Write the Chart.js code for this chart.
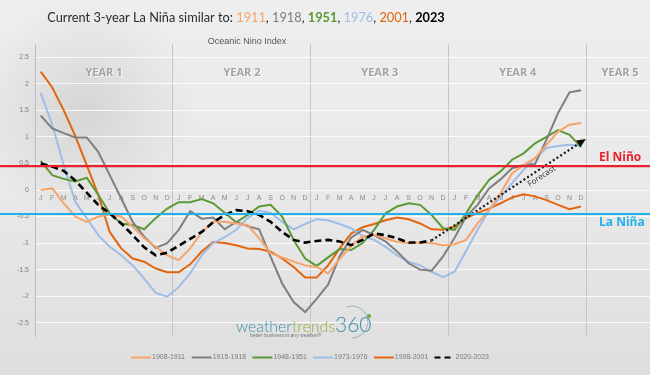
<!DOCTYPE html>
<html>
<head>
<meta charset="utf-8">
<script src="https://cdn.jsdelivr.net/npm/chart.js@4.4.1/dist/chart.umd.min.js"></script>
<style>
	html, body { margin: 0; padding: 0; background: #e8e8e8; }
	#wrap { width: 650px; height: 375px; }
</style>
</head>
<body>
<div id="wrap"><canvas id="ninoChart" width="650" height="375"></canvas></div>
<script>
// Oceanic Nino Index, 4 years of months per analogue event
const monthLetters = ["J", "F", "M", "A", "M", "J", "J", "A", "S", "O", "N", "D"];
const yearLabels = ["YEAR 1", "YEAR 2", "YEAR 3", "YEAR 4", "YEAR 5"];
const yearCenters = [5.5, 17.5, 29.5, 41.5, 50.4];
const yearBounds = [11.5, 23.5, 35.5, 47.5];
const yTicks = [-2.5, -2, -1.5, -1, -0.5, 0, 0.5, 1, 1.5, 2, 2.5];

const seriesLabels = ["1908-1911", "1915-1918", "1948-1951", "1973-1976", "1998-2001", "2020-2023"];
const seriesColors = ["#f7a46b", "#7f7f7f", "#5b9a34", "#9fbde9", "#e2650f", "#000000"];

const oni1908 = [
	0.0, 0.03, -0.25, -0.5, -0.6, -0.5, -0.46, -0.5, -0.69, -0.91, -1.07, -1.23,
	-1.32, -1.1, -0.8, -0.6, -0.6, -0.63, -0.66, -0.91, -1.19, -1.27, -1.35, -1.42,
	-1.45, -1.57, -1.3, -1.05, -0.88, -0.85, -0.91, -0.98, -1.0, -0.99, -1.0, -1.04,
	-1.02, -0.94, -0.63, -0.38, -0.06, 0.31, 0.47, 0.6, 0.85, 1.1, 1.23, 1.26,
];
const oni1915 = [
	1.4, 1.16, 1.07, 0.99, 0.99, 0.72, 0.28, -0.16, -0.6, -0.88, -1.09, -1.0,
	-0.75, -0.4, -0.54, -0.52, -0.74, -0.6, -0.68, -0.74, -1.26, -1.76, -2.11, -2.3,
	-2.05, -1.78, -1.25, -0.9, -0.75, -0.85, -0.97, -1.16, -1.38, -1.5, -1.52, -1.25,
	-0.9, -0.5, -0.28, 0.03, 0.2, 0.41, 0.47, 0.49, 0.95, 1.45, 1.84, 1.88,
];
const oni1948 = [
	0.55, 0.28, 0.21, 0.16, 0.23, -0.09, -0.44, -0.63, -0.66, -0.74, -0.53, -0.35,
	-0.23, -0.23, -0.17, -0.25, -0.43, -0.61, -0.47, -0.31, -0.28, -0.5, -0.94, -1.29,
	-1.43, -1.27, -1.11, -1.13, -1.0, -0.75, -0.44, -0.31, -0.25, -0.28, -0.47, -0.72,
	-0.75, -0.44, -0.1, 0.19, 0.35, 0.57, 0.69, 0.88, 1.0, 1.13, 1.04, 0.81,
];
const oni1973 = [
	1.83, 1.23, 0.47, -0.22, -0.53, -0.85, -1.07, -1.23, -1.42, -1.67, -1.94, -2.01,
	-1.83, -1.57, -1.23, -1.0, -0.89, -0.75, -0.53, -0.39, -0.43, -0.6, -0.74, -0.64,
	-0.55, -0.57, -0.64, -0.72, -0.87, -0.94, -1.07, -1.23, -1.35, -1.42, -1.54, -1.64,
	-1.54, -1.15, -0.75, -0.38, -0.13, 0.13, 0.38, 0.6, 0.79, 0.83, 0.85, 0.83,
];
const oni1998 = [
	2.23, 1.93, 1.5, 1.02, 0.47, -0.09, -0.79, -1.1, -1.29, -1.35, -1.48, -1.55,
	-1.55, -1.4, -1.16, -0.98, -1.0, -1.04, -1.1, -1.11, -1.16, -1.29, -1.45, -1.65,
	-1.65, -1.42, -1.1, -0.82, -0.7, -0.64, -0.57, -0.52, -0.55, -0.63, -0.74, -0.75,
	-0.69, -0.53, -0.43, -0.35, -0.25, -0.14, -0.08, -0.12, -0.19, -0.28, -0.36, -0.31,
];
const oni2020 = [
	0.5, 0.44, 0.36, 0.18, -0.05, -0.28, -0.44, -0.63, -0.85, -1.08, -1.23, -1.18,
	-1.05, -0.92, -0.79, -0.61, -0.47, -0.38, -0.4, -0.47, -0.6, -0.79, -0.94, -0.99,
	-0.96, -0.94, -0.97, -1.04, -0.94, -0.82, -0.85, -0.91, -0.99, -0.99, -0.95,
];
const forecastX = [34, 47.2];
const forecastY = [-0.95, 0.93];

const ninoLevels = [0.45, -0.45];
const ninoNames = ["El Niño", "La Niña"];
const ninoColors = ["#e8232b", "#1fb0ea"];

const titleLead = "Current 3-year La Niña similar to: ";
const titleYears = ["1911", "1918", "1951", "1976", "2001", "2023"];
const titleBold = [false, false, true, false, false, true];

function toPoints(arr) {
	return arr.map((v, i) => ({ x: i, y: v }));
}

const seriesValues = [oni1908, oni1915, oni1948, oni1973, oni1998, oni2020];

const datasets = seriesValues.map((vals, i) => ({
	label: seriesLabels[i],
	data: toPoints(vals),
	borderColor: seriesColors[i],
	backgroundColor: seriesColors[i],
	borderWidth: i == 5 ? 2.6 : 2,
	borderDash: i == 5 ? [7, 4] : [],
	pointRadius: 0,
	tension: 0,
	fill: false,
	order: i == 5 ? 0 : 1,
}));
datasets.push({
	label: "Forecast",
	data: forecastX.map((x, i) => ({ x: x, y: forecastY[i] })),
	borderColor: "#1a1a1a",
	borderWidth: 2.2,
	borderDash: [2, 2.4],
	pointRadius: 0,
	fill: false,
	order: 0,
	isForecast: true,
});

// background wash
const backdrop = {
	id: "backdrop",
	beforeDraw(chart) {
		const { ctx, width, height } = chart;
		ctx.save();
		const g = ctx.createLinearGradient(0, 0, 0, height);
		g.addColorStop(0, "#eeeeee");
		g.addColorStop(0.5, "#e9e9e9");
		g.addColorStop(1, "#dedede");
		ctx.fillStyle = g;
		ctx.fillRect(0, 0, width, height);
		const r = ctx.createRadialGradient(85, 110, 5, 85, 110, 110);
		r.addColorStop(0, "rgba(120,120,120,0.18)");
		r.addColorStop(1, "rgba(120,120,120,0)");
		ctx.fillStyle = r;
		ctx.fillRect(0, 0, 260, 260);
		ctx.restore();
	},
};

// title, sub title, year headers
const headers = {
	id: "headers",
	beforeDatasetsDraw(chart) {
		const { ctx, scales } = chart;
		ctx.save();
		ctx.textBaseline = "middle";
		ctx.textAlign = "center";
		ctx.font = "bold 11px 'Open Sans'";
		yearLabels.forEach((t, i) => {
			const x = scales.x.getPixelForValue(yearCenters[i]);
			const y = scales.y.getPixelForValue(2.2);
			ctx.fillStyle = "rgba(255,255,255,0.8)";
			ctx.fillText(t, x + 1, y + 1);
			ctx.fillStyle = "#a3a3a3";
			ctx.fillText(t, x, y);
		});
		ctx.font = "9px 'Liberation Sans'";
		ctx.fillStyle = "#555";
		ctx.fillText("Oceanic Nino Index", 247, 42);
		ctx.restore();
	},
	afterDraw(chart) {
		const { ctx } = chart;
		ctx.save();
		ctx.textBaseline = "middle";
		ctx.textAlign = "left";
		const parts = [[titleLead, "#2a2a2a", false]];
		titleYears.forEach((y, i) => {
			parts.push([y, seriesColors[i] == "#000000" ? "#000" : seriesColors[i], titleBold[i]]);
			if (i < titleYears.length - 1) parts.push([", ", "#2a2a2a", false]);
		});
		let size = 18;
		const measure = (s) => {
			let w = 0;
			parts.forEach((p) => {
				ctx.font = (p[2] ? "bold " : "") + s + "px Lato";
				w += ctx.measureText(p[0]).width;
			});
			return w;
		};
		size = size * 398 / measure(size);
		let x = 246 - measure(size) / 2;
		parts.forEach((p) => {
			ctx.font = (p[2] ? "bold " : "") + size + "px Lato";
			ctx.fillStyle = p[1];
			ctx.fillText(p[0], x, 18);
			x += ctx.measureText(p[0]).width;
		});
		ctx.restore();
	},
};

// El Nino / La Nina threshold lines and the forecast arrow
const overlays = {
	id: "overlays",
	afterDatasetsDraw(chart) {
		const { ctx, scales, width } = chart;
		ctx.save();
		ninoLevels.forEach((lvl, i) => {
			const y = scales.y.getPixelForValue(lvl);
			ctx.strokeStyle = ninoColors[i];
			ctx.lineWidth = i == 0 ? 2.4 : 2;
			ctx.beginPath();
			ctx.moveTo(0, y);
			ctx.lineTo(width, y);
			ctx.stroke();
			ctx.font = "bold 12px 'Open Sans'";
			ctx.fillStyle = ninoColors[i];
			ctx.textAlign = "left";
			ctx.textBaseline = "middle";
			ctx.fillText(ninoNames[i], 599, i == 0 ? y - 9 : y + 9);
		});

		const idx = chart.data.datasets.findIndex((d) => d.isForecast);
		const pts = chart.getDatasetMeta(idx).data;
		const p0 = pts[0], p1 = pts[pts.length - 1];
		const a = Math.atan2(p1.y - p0.y, p1.x - p0.x);
		ctx.fillStyle = "#111";
		ctx.beginPath();
		ctx.moveTo(p1.x + Math.cos(a) * 3, p1.y + Math.sin(a) * 3);
		ctx.lineTo(p1.x - Math.cos(a) * 6 - Math.sin(a) * 4, p1.y - Math.sin(a) * 6 + Math.cos(a) * 4);
		ctx.lineTo(p1.x - Math.cos(a) * 6 + Math.sin(a) * 4, p1.y - Math.sin(a) * 6 - Math.cos(a) * 4);
		ctx.closePath();
		ctx.fill();

		const t = 0.7;
		const lx = p0.x + (p1.x - p0.x) * t - Math.sin(a) * 7;
		const ly = p0.y + (p1.y - p0.y) * t + Math.cos(a) * 7;
		ctx.translate(lx, ly);
		ctx.rotate(a);
		ctx.font = "8px 'Open Sans'";
		ctx.fillStyle = "#333";
		ctx.textAlign = "center";
		ctx.textBaseline = "middle";
		ctx.fillText("Forecast", 0, 0);
		ctx.restore();
	},
};

// logo and legend at the bottom
const footer = {
	id: "footer",
	afterDraw(chart) {
		const { ctx } = chart;
		ctx.save();
		ctx.textBaseline = "alphabetic";
		ctx.textAlign = "left";
		ctx.font = "300 18px Lato";
		let x = 236;
		const wW = ctx.measureText("weather").width;
		const tW = ctx.measureText("trends").width;
		const k = 99 / (wW + tW);
		ctx.font = "300 " + 18 * k + "px Lato";
		ctx.fillStyle = "#3d8fab";
		ctx.fillText("weather", x, 332);
		x += ctx.measureText("weather").width;
		ctx.fillStyle = "#8db13d";
		ctx.fillText("trends", x, 332);
		x += ctx.measureText("trends").width;
		ctx.font = "300 21px Lato";
		ctx.fillStyle = "#3d8fab";
		ctx.fillText("360", x, 332);
		ctx.strokeStyle = "rgba(110,150,170,0.6)";
		ctx.lineWidth = 1;
		ctx.beginPath();
		ctx.arc(352, 322, 16, -1.9, 1.6);
		ctx.stroke();
		ctx.fillStyle = "#7aa33a";
		ctx.beginPath();
		ctx.arc(369, 316, 2, 0, Math.PI * 2);
		ctx.fill();
		ctx.font = "5px 'Liberation Sans'";
		ctx.fillStyle = "#777";
		ctx.fillText("better business in any weather\u00ae", 250, 337);

		let lx = 131;
		ctx.font = "7px 'Liberation Sans'";
		ctx.textBaseline = "middle";
		chart.data.datasets.forEach((ds) => {
			if (ds.isForecast) return;
			ctx.strokeStyle = ds.borderColor;
			ctx.lineWidth = 2;
			ctx.setLineDash(ds.borderDash.length ? [6, 4] : []);
			ctx.beginPath();
			ctx.moveTo(lx, 357.5);
			ctx.lineTo(lx + 20, 357.5);
			ctx.stroke();
			ctx.setLineDash([]);
			ctx.fillStyle = "#7a7a7a";
			ctx.fillText(ds.label, lx + 21, 357.5);
			lx += 60.7;
		});
		ctx.restore();
	},
};

const ctx = document.getElementById("ninoChart");
new Chart(ctx, {
	type: "line",
	data: { datasets: datasets },
	options: {
		responsive: false,
		animation: false,
		layout: { padding: { top: 44, bottom: 39, left: 0, right: 0 } },
		plugins: {
			legend: { display: false },
			tooltip: { enabled: false },
			title: { display: false },
		},
		scales: {
			x: {
				type: "linear",
				position: { y: 0 },
				min: -0.5,
				max: 53,
				afterBuildTicks: (s) => {
					const t = [];
					for (let i = 0; i < 48; i++) t.push({ value: i });
					yearBounds.forEach((v) => t.push({ value: v }));
					t.sort((a, b) => a.value - b.value);
					s.ticks = t;
				},
				ticks: {
					autoSkip: false,
					maxRotation: 0,
					minRotation: 0,
					padding: 4,
					color: "#8a8a8a",
					font: { size: 7, family: "'Liberation Sans'" },
					callback: (v) => (Number.isInteger(v) && v < 48 ? monthLetters[v % 12] : ""),
				},
				grid: {
					drawTicks: false,
					color: (c) => (c.tick && !Number.isInteger(c.tick.value) ? "#c4c4c4" : "rgba(0,0,0,0)"),
				},
				border: { display: false },
			},
			y: {
				min: -2.75,
				max: 2.75,
				afterBuildTicks: (s) => {
					s.ticks = yTicks.map((v) => ({ value: v }));
				},
				afterFit: (s) => {
					s.width = 35;
				},
				ticks: {
					padding: 6,
					color: "#7f7f7f",
					font: { size: 7, family: "'Liberation Sans'" },
					callback: (v) => String(v),
				},
				grid: { drawTicks: false, color: "rgba(255,255,255,0.8)" },
				border: { display: true, color: "#bdbdbd" },
			},
		},
	},
	plugins: [backdrop, headers, overlays, footer],
});
</script>
</body>
</html>
